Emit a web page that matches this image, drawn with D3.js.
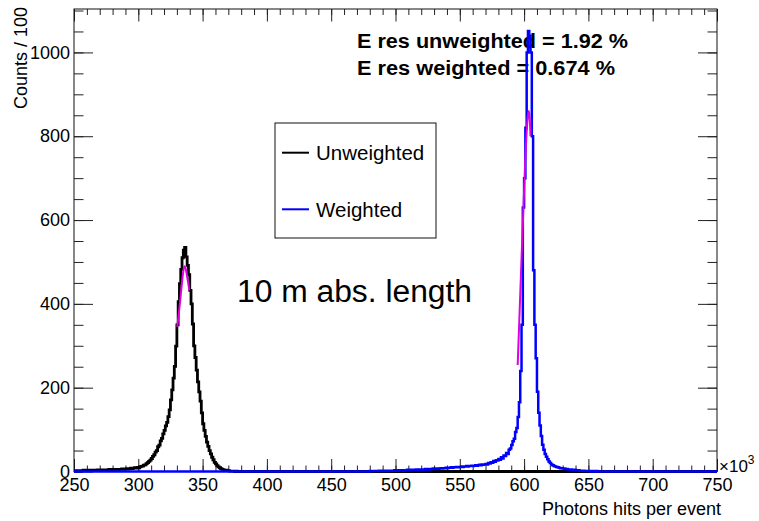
<!DOCTYPE html>
<html>
<head>
<meta charset="utf-8">
<script src="https://cdn.jsdelivr.net/npm/d3@7"></script>
<style>
  body { margin: 0; background: #fff; }
  svg { display: block; }
  text { font-family: "Liberation Sans", Arial, Helvetica, sans-serif; fill: #000; }
</style>
</head>
<body>
<svg id="chart" width="759" height="521"></svg>
<script>
// ---- data (x in units of 10^3 photon hits, one bin = 1) ----
const xDomain = [250, 750];
const yDomain = [0, 1103.6];
const xTickLabels = [250, 300, 350, 400, 450, 500, 550, 600, 650, 700, 750];
const yTickLabels = [0, 200, 400, 600, 800, 1000];
const binWidth = 1;

// Unweighted histogram, bins starting at 250
const unweightedStart = 250;
const unweightedCounts = [
  2, 1, 2, 2, 1, 2, 2, 3, 2, 2,
  3, 2, 3, 3, 2, 3, 3, 3, 4, 3,
  3, 4, 3, 4, 4, 3, 4, 5, 4, 4,
  5, 4, 5, 5, 4, 5, 5, 6, 5, 6,
  6, 7, 6, 7, 8, 7, 8, 9, 8, 10,
  9, 11, 12, 13, 15, 16, 19, 21, 24, 27,
  31, 36, 40, 46, 50, 59, 63, 73, 79, 90,
  98, 109, 117, 131, 147, 171, 195, 223, 251, 299,
  350, 405, 448, 482, 510, 528, 535, 512, 492, 470,
  432, 400, 352, 300, 272, 242, 214, 190, 168, 140,
  114, 98, 84, 70, 60, 50, 42, 34, 28, 22,
  18, 14, 11, 9, 7, 5, 4, 3, 3, 2,
  2, 1, 1, 1, 1, 0, 1, 0, 0, 0
];

// Weighted histogram, bins starting at 480
const weightedStart = 480;
const weightedCounts = [
  1, 1, 1, 1, 1, 1, 1, 2, 1, 1,
  2, 1, 2, 2, 1, 2, 2, 2, 2, 3,
  2, 3, 2, 3, 3, 3, 2, 3, 3, 4,
  3, 4, 3, 4, 4, 4, 5, 4, 5, 5,
  5, 4, 5, 6, 5, 6, 5, 6, 6, 7,
  6, 7, 7, 6, 7, 8, 7, 8, 8, 9,
  8, 9, 9, 10, 9, 10, 10, 11, 10, 11,
  11, 12, 11, 12, 12, 13, 12, 13, 13, 14,
  13, 14, 15, 14, 15, 16, 15, 17, 16, 17,
  18, 17, 20, 19, 22, 21, 25, 23, 27, 26,
  30, 28, 34, 31, 38, 37, 44, 42, 52, 55,
  63, 72, 78, 94, 104, 130, 165, 240, 350, 630,
  700, 820, 1000, 1051, 1040, 1000, 800, 480, 350, 270,
  190, 140, 110, 85, 64, 52, 42, 35, 29, 24,
  20, 17, 15, 13, 12, 11, 10, 9, 8, 8,
  7, 7, 6, 6, 5, 5, 5, 4, 4, 4,
  3, 3, 3, 2, 2, 2, 2, 1, 1, 1,
  1, 1, 0, 1, 0, 0, 1, 0, 0, 0
];

// Gaussian fits around each peak, sampled
const unweightedFitX = [330.3, 331.6, 332.9, 334.1, 335.1, 335.9, 336.6, 337.6, 338.7, 339.7];
const unweightedFitY = [345, 380, 417, 455, 480, 490, 487, 472, 452, 432];
const weightedFitX = [595.0, 596.5, 597.9, 599.4, 600.8, 602.0, 603.0, 603.8, 604.5, 605.0];
const weightedFitY = [254, 380, 500, 623, 735, 810, 850, 860, 835, 800];

const seriesNames = ["Unweighted", "Weighted"];
const seriesColors = ["#000000", "#0000ff"];
const fitColor = "#e000e0";
const resolutionLines = ["E res unweighted = 1.92 %", "E res weighted = 0.674 %"];
const noteText = "10 m abs. length";
const xTitle = "Photons hits per event";
const yTitle = "Counts / 100";

// ---- layout ----
const svg = d3.select("#chart");
const frame = { left: 74, right: 717, top: 9, bottom: 471.5 };

const x = d3.scaleLinear().domain(xDomain).range([frame.left, frame.right]);
const y = d3.scaleLinear().domain(yDomain).range([frame.bottom, frame.top]);

// ---- axes (ticks point into the frame, ROOT style) ----
function styleAxis(g) {
  g.select(".domain").remove();
  g.selectAll(".tick line").attr("stroke", "#222").attr("stroke-width", 1);
}
const xMinor = x.ticks(50);
const yMinor = d3.range(yDomain[0], yDomain[1], 50);

svg.append("g").attr("transform", `translate(0,${frame.bottom})`)
  .call(d3.axisBottom(x).tickValues(xMinor).tickSize(-6).tickFormat(""))
  .call(styleAxis);
svg.append("g").attr("transform", `translate(0,${frame.bottom})`)
  .call(d3.axisBottom(x).tickValues(xTickLabels).tickSize(-12.5).tickPadding(7).tickFormat(d3.format("d")))
  .call(styleAxis)
  .call(g => g.selectAll("text").attr("font-size", 18).attr("font-family", "Liberation Sans, Arial, sans-serif"));
svg.append("g").attr("transform", `translate(0,${frame.top})`)
  .call(d3.axisTop(x).tickValues(xMinor).tickSize(-6).tickFormat(""))
  .call(styleAxis);
svg.append("g").attr("transform", `translate(0,${frame.top})`)
  .call(d3.axisTop(x).tickValues(xTickLabels).tickSize(-12.5).tickFormat(""))
  .call(styleAxis);

svg.append("g").attr("transform", `translate(${frame.left},0)`)
  .call(d3.axisLeft(y).tickValues(yMinor).tickSize(-9.5).tickFormat(""))
  .call(styleAxis);
svg.append("g").attr("transform", `translate(${frame.left},0)`)
  .call(d3.axisLeft(y).tickValues(yTickLabels).tickSize(-19).tickPadding(4).tickFormat(d3.format("d")))
  .call(styleAxis)
  .call(g => g.selectAll("text").attr("font-size", 18).attr("font-family", "Liberation Sans, Arial, sans-serif"));
svg.append("g").attr("transform", `translate(${frame.right},0)`)
  .call(d3.axisRight(y).tickValues(yMinor).tickSize(-9.5).tickFormat(""))
  .call(styleAxis);
svg.append("g").attr("transform", `translate(${frame.right},0)`)
  .call(d3.axisRight(y).tickValues(yTickLabels).tickSize(-19).tickFormat(""))
  .call(styleAxis);

// frame
svg.append("rect")
  .attr("x", frame.left).attr("y", frame.top)
  .attr("width", frame.right - frame.left).attr("height", frame.bottom - frame.top)
  .attr("fill", "none").attr("stroke", "#111").attr("stroke-width", 1);

// axis exponent and titles
const expo = svg.append("text").attr("x", 719).attr("y", 472).attr("font-size", 17);
expo.append("tspan").text("×10");
expo.append("tspan").attr("font-size", 12).attr("dy", -8).text("3");

svg.append("text").attr("x", 721).attr("y", 515).attr("text-anchor", "end")
  .attr("font-size", 18).text(xTitle);
svg.append("text").attr("transform", "translate(27,7) rotate(-90)")
  .attr("text-anchor", "end").attr("font-size", 18).text(yTitle);

// legend
const legend = svg.append("g");
legend.append("rect").attr("x", 275).attr("y", 123).attr("width", 161).attr("height", 115)
  .attr("fill", "#fff").attr("stroke", "#111").attr("stroke-width", 1);
const legendRows = [152.7, 209.3];
seriesNames.forEach((name, i) => {
  legend.append("line").attr("x1", 282).attr("x2", 309)
    .attr("y1", legendRows[i]).attr("y2", legendRows[i])
    .attr("stroke", seriesColors[i]).attr("stroke-width", 2);
  legend.append("text").attr("x", 316).attr("y", legendRows[i] + 7.3)
    .attr("font-size", 20.5).text(name);
});

// annotations
const resLengths = [271, 258];
resolutionLines.forEach((t, i) => {
  svg.append("text").attr("x", 357).attr("y", 47.5 + i * 27.5)
    .attr("font-size", 20).attr("font-weight", "bold")
    .attr("textLength", resLengths[i]).attr("lengthAdjust", "spacingAndGlyphs")
    .text(t);
});
svg.append("text").attr("x", 237).attr("y", 302).attr("font-size", 31)
  .attr("textLength", 235).attr("lengthAdjust", "spacingAndGlyphs").text(noteText);

// ---- histograms ----
function histPoints(start, counts) {
  // bins outside the listed range are empty
  const nBins = Math.round((xDomain[1] - xDomain[0]) / binWidth);
  const pts = [];
  for (let i = 0; i < nBins; i++) {
    const edge = xDomain[0] + i * binWidth;
    const k = Math.round((edge - start) / binWidth);
    const c = (k >= 0 && k < counts.length) ? counts[k] : 0;
    pts.push([edge, c]);
  }
  pts.push([xDomain[1], pts[pts.length - 1][1]]);
  return pts;
}
const stepLine = d3.line().x(d => x(d[0])).y(d => y(d[1])).curve(d3.curveStepAfter);

svg.append("path").datum(histPoints(unweightedStart, unweightedCounts))
  .attr("d", stepLine).attr("fill", "none")
  .attr("stroke", seriesColors[0]).attr("stroke-width", 2.8).attr("stroke-linejoin", "miter");
svg.append("path").datum(histPoints(weightedStart, weightedCounts))
  .attr("d", stepLine).attr("fill", "none")
  .attr("stroke", seriesColors[1]).attr("stroke-width", 2.5).attr("stroke-linejoin", "miter");

// ---- fits ----
const fitLine = d3.line().x(d => x(d[0])).y(d => y(d[1])).curve(d3.curveMonotoneX);
[[unweightedFitX, unweightedFitY], [weightedFitX, weightedFitY]].forEach(([fx, fy]) => {
  svg.append("path").datum(fx.map((v, i) => [v, fy[i]]))
    .attr("d", fitLine).attr("fill", "none")
    .attr("stroke", fitColor).attr("stroke-width", 2);
});
</script>
</body>
</html>
